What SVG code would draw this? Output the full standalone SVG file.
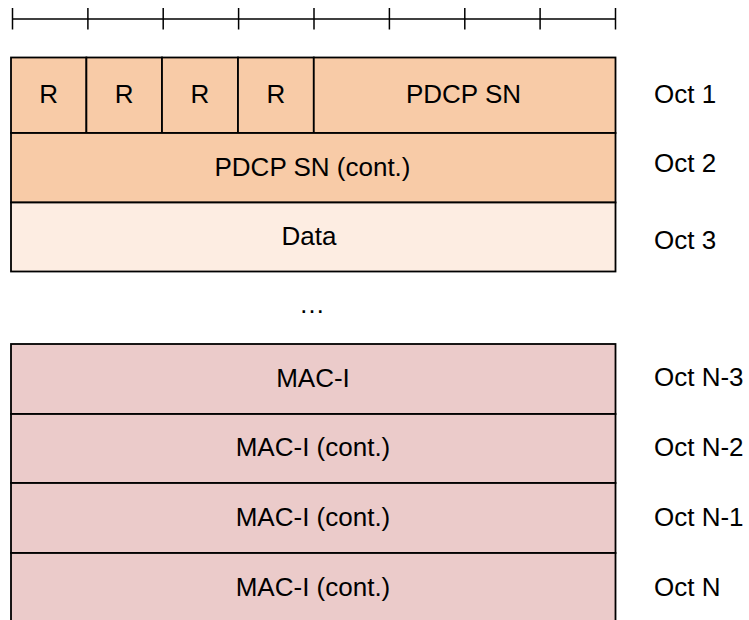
<svg xmlns="http://www.w3.org/2000/svg" width="749" height="620" viewBox="0 0 749 620">
<style>
text{font-family:"Liberation Sans",Arial,sans-serif;font-size:26px;fill:#000}
.c{text-anchor:middle}
.f{stroke:#000;stroke-width:1.8}
.o{fill:#F8CBA7}
.l{fill:#FDEDE2}
.p{fill:#EBCBCA}
.r{stroke:#000;stroke-width:1.5;fill:none}
</style>
<rect width="749" height="620" fill="#fff"/>
<g id="ruler" class="r">
<line x1="12.5" y1="19" x2="615.5" y2="19"/>
<line x1="12.5" y1="8" x2="12.5" y2="29.5"/>
<line x1="87.9" y1="8" x2="87.9" y2="29.5"/>
<line x1="163.2" y1="8" x2="163.2" y2="29.5"/>
<line x1="238.6" y1="8" x2="238.6" y2="29.5"/>
<line x1="314" y1="8" x2="314" y2="29.5"/>
<line x1="389.4" y1="8" x2="389.4" y2="29.5"/>
<line x1="464.8" y1="8" x2="464.8" y2="29.5"/>
<line x1="540.1" y1="8" x2="540.1" y2="29.5"/>
<line x1="615.5" y1="8" x2="615.5" y2="29.5"/>
</g>
<g id="oct1">
<rect class="f o" x="11" y="57.5" width="75.4" height="75.5"/>
<rect class="f o" x="86.4" y="57.5" width="75.6" height="75.5"/>
<rect class="f o" x="162" y="57.5" width="76" height="75.5"/>
<rect class="f o" x="238" y="57.5" width="75.8" height="75.5"/>
<rect class="f o" x="313.8" y="57.5" width="301.7" height="75.5"/>
<text class="c" x="48.7" y="103">R</text>
<text class="c" x="124.2" y="103">R</text>
<text class="c" x="200" y="103">R</text>
<text class="c" x="275.9" y="103">R</text>
<text class="c" x="463.5" y="103">PDCP SN</text>
<text x="654" y="103">Oct 1</text>
</g>
<g id="oct2">
<rect class="f o" x="11" y="133" width="604.5" height="69.5"/>
<text class="c" x="312.5" y="176">PDCP SN (cont.)</text>
<text x="654" y="172">Oct 2</text>
</g>
<g id="oct3">
<rect class="f l" x="11" y="202.5" width="604.5" height="69"/>
<text class="c" x="309" y="244.5">Data</text>
<text x="654" y="249">Oct 3</text>
</g>
<g id="ellipsis">
<text class="c" x="312" y="313">…</text>
</g>
<g id="octN3">
<rect class="f p" x="11" y="344" width="604.5" height="70"/>
<text class="c" x="313" y="386.5">MAC-I</text>
<text x="654" y="386">Oct N-3</text>
</g>
<g id="octN2">
<rect class="f p" x="11" y="414" width="604.5" height="69"/>
<text class="c" x="313" y="456">MAC-I (cont.)</text>
<text x="654" y="456">Oct N-2</text>
</g>
<g id="octN1">
<rect class="f p" x="11" y="483" width="604.5" height="70"/>
<text class="c" x="313" y="526">MAC-I (cont.)</text>
<text x="654" y="526">Oct N-1</text>
</g>
<g id="octN">
<rect class="f p" x="11" y="553" width="604.5" height="75"/>
<text class="c" x="313" y="596">MAC-I (cont.)</text>
<text x="654" y="596">Oct N</text>
</g>
<g id="connectors"></g>
</svg>
